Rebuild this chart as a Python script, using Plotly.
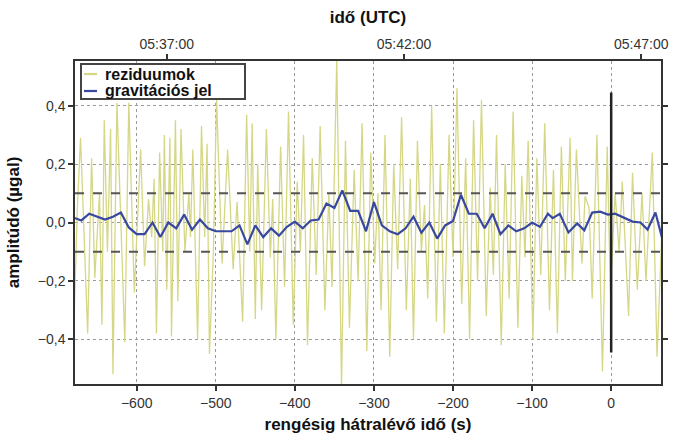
import plotly.graph_objects as go

# ---------------- data ----------------
# residuals (µgal): time (s before the quake), value
resid_t = [-680, -675, -671, -662, -657, -653, -647, -644, -641, -637, -633, -630, -625, -615, -610,
           -603, -595, -590, -585, -581, -578, -575, -571, -567, -565, -562, -558, -556, -551, -548,
           -544, -539, -534, -532, -529, -523, -518, -514, -511, -508, -503, -499, -492, -485, -478,
           -473, -466, -461, -457, -454, -450,
           -447, -442, -436, -431, -428, -424, -418, -413, -408, -402, -397, -393, -389, -384, -378,
           -373, -368, -362, -357, -353, -347, -341, -336, -331, -325, -320, -315, -309, -304, -299,
           -295, -291, -286, -280, -275, -270, -265, -259, -254, -250, -245, -240, -236, -232, -227,
           -221, -216, -211, -205, -200, -195, -189, -184, -179, -174, -169, -164, -158, -153, -149,
           -145, -139, -134, -129, -124, -118, -113, -109, -105, -99, -94, -89, -84, -78, -73,
           -68, -63, -58,
           -52, -49, -44, -37, -33, -28, -24, -18, -11, -5, -1, 5, 10, 14, 22, 27, 33, 39, 44, 52, 58, 66]
resid_v = [-0.41, 0.05, 0.29, -0.38, 0.22, -0.19, 0.10, -0.35, 0.35, -0.10, 0.32, -0.52, 0.41, -0.41, 0.41,
           -0.24, 0.25, -0.15, 0.08, -0.05, 0.15, -0.38, 0.24, -0.10, 0.30, -0.23, 0.29, -0.39, 0.35, -0.27,
           0.32, -0.10, 0.10, -0.05, 0.25, -0.40, 0.33, -0.05, 0.27, -0.45, -0.10, 0.42, -0.14, 0.25, -0.16,
           0.07, -0.34, 0.37, -0.10, 0.34, -0.33,
           0.20, -0.30, 0.32, -0.12, 0.08, -0.40, 0.26, -0.22, 0.38, -0.35, 0.14, -0.10, 0.30, -0.42, 0.22,
           -0.18, 0.33, -0.30, 0.10, -0.22, 0.56, -0.56, 0.28, -0.36, 0.18, -0.20, 0.34, -0.44, 0.24, -0.14,
           0.10, -0.30, 0.30, -0.46, 0.20, -0.16, 0.36, -0.30, 0.15, -0.40, 0.28, -0.10, 0.06, -0.26, 0.40,
           -0.34, 0.20, -0.38, 0.30, -0.12, 0.46, -0.28, 0.22, -0.40, 0.35, -0.20, 0.42, -0.32, 0.12, -0.18,
           0.30, -0.42, 0.20, -0.26, 0.38, -0.36, 0.16, -0.12, 0.28, -0.40, 0.22, -0.18, 0.34, -0.30, 0.18,
           -0.38, 0.26, -0.20,
           0.29, -0.20, 0.25, -0.14, 0.09, 0.05, -0.26, 0.30, -0.51, 0.26, -0.24, 0.10, -0.10, 0.14, -0.32,
           0.17, -0.23, 0.10, -0.20, 0.24, -0.46, 0.10]

# gravity signal (µgal), ~10 s samples
grav_t = [-680, -670, -660, -650, -640, -630, -620, -610, -600, -590, -580, -570, -560, -550, -540,
          -530, -520, -510, -500, -490, -480, -470, -460, -450, -440, -430, -420, -410, -400, -390,
          -380, -370, -360, -350, -340, -330, -320, -310, -300, -290, -280, -270, -260, -250, -240,
          -230, -220, -210, -200, -190, -180, -170, -160, -150, -140, -130, -120, -110, -100, -90,
          -80, -74, -65, -54, -43, -34, -24, -14, -4, 5, 15, 27, 37, 46, 56, 66]
grav_v = [0.017, 0.007, 0.030, 0.020, 0.010, 0.020, 0.034, -0.017, -0.040, -0.040, 0.000, -0.050, 0.000, -0.020, 0.027,
          -0.025, 0.010, -0.020, -0.030, -0.030, -0.030, -0.010, -0.075, -0.010, -0.050, -0.020, -0.045, -0.015, 0.003, -0.020,
          0.007, 0.010, 0.065, 0.050, 0.110, 0.040, 0.040, -0.030, 0.070, -0.010, -0.030, -0.040, -0.020, 0.020, -0.035,
          0.000, -0.055, -0.010, 0.005, 0.095, 0.030, 0.030, -0.020, 0.030, -0.040, -0.010, -0.030, -0.020, 0.000, -0.015,
          0.030, 0.015, 0.030, -0.034, -0.003, -0.027, 0.034, 0.037, 0.027, 0.030, 0.017, 0.003, 0.000, -0.024, 0.034, -0.070]

series_names = ["reziduumok", "gravitációs jel"]
x_ticks = [-600, -500, -400, -300, -200, -100, 0]
y_ticks = [-0.4, -0.2, 0.0, 0.2, 0.4]
y_ticktext = ["\u22120,4", "\u22120,2", "0,0", "0,2", "0,4"]
utc_ticks = [-562, -262, 38]
utc_labels = ["05:37:00", "05:42:00", "05:47:00"]
thresholds = [-0.1, 0.1]
event_t = 0
event_half = 0.445
x_range = [-678, 63]
y_range = [-0.553, 0.553]

# ---------------- style ----------------
FONT = "Liberation Sans, Arial, Helvetica, sans-serif"
YEL = "#d5d786"
BLUE = "#3848a0"
COLORS = [YEL, BLUE]
W, H = 674, 435
ML, MR, MT, MB = 75, 13, 61, 51
PW, PH = W - ML - MR, H - MT - MB


def px_x(p):
    return (p - ML) / PW


def px_y(p):
    return (H - MB - p) / PH


fig = go.Figure()
fig.add_trace(go.Scatter(x=resid_t, y=resid_v, mode="lines", name=series_names[0],
                         line=dict(color=YEL, width=1.3), showlegend=False))
fig.add_trace(go.Scatter(x=grav_t, y=grav_v, mode="lines", name=series_names[1],
                         line=dict(color=BLUE, width=2.2), showlegend=False))
# invisible trace carrying the top (UTC) axis
fig.add_trace(go.Scatter(x=grav_t, y=grav_v, mode="lines", xaxis="x2", showlegend=False,
                         line=dict(color="rgba(0,0,0,0)"), hoverinfo="skip"))

for th in thresholds:
    fig.add_shape(type="line", xref="paper", x0=0, x1=1, yref="y", y0=th, y1=th,
                  line=dict(color="#555555", width=2, dash="dash"), layer="above")
fig.add_shape(type="line", xref="x", x0=event_t, x1=event_t, yref="y", y0=-event_half, y1=event_half,
              line=dict(color="#222222", width=2.5), layer="above")

# legend box (drawn by hand to match the compact original)
fig.add_shape(type="rect", xref="paper", yref="paper",
              x0=px_x(81), x1=px_x(245), y0=px_y(99), y1=px_y(64),
              line=dict(color="#444444", width=2), fillcolor="white", layer="above")
for i, (name, col) in enumerate(zip(series_names, COLORS)):
    yy = px_y(74 + 17 * i)
    fig.add_shape(type="line", xref="paper", yref="paper", x0=px_x(84), x1=px_x(97), y0=yy, y1=yy,
                  line=dict(color=col, width=2.2), layer="above")
    fig.add_annotation(xref="paper", yref="paper", x=px_x(104), y=yy, xanchor="left", yanchor="middle",
                       text="<b>" + name + "</b>", showarrow=False, borderpad=0,
                       font=dict(family=FONT, size=16, color="#111111"))

axis_common = dict(showline=True, linecolor="#333333", linewidth=1.5, ticks="outside",
                   ticklen=5, tickwidth=1.5, tickcolor="#333333", automargin=False,
                   tickfont=dict(family=FONT, size=14, color="#333333"), zeroline=False)

fig.update_layout(
    width=W, height=H,
    margin=dict(l=ML, r=MR, t=MT, b=MB),
    paper_bgcolor="white", plot_bgcolor="white",
    font=dict(family=FONT),
    xaxis=dict(range=x_range, tickvals=x_ticks, mirror=True,
               showgrid=True, gridcolor="#9a9a9a", griddash="dot", gridwidth=1,
               title=dict(text="<b>rengésig hátralévő idő (s)</b>", standoff=9,
                          font=dict(family=FONT, size=17, color="#111111")),
               **axis_common),
    xaxis2=dict(range=x_range, overlaying="x", side="top", tickvals=utc_ticks, ticktext=utc_labels,
                showgrid=False,
                title=dict(text="<b>idő (UTC)</b>", standoff=8,
                           font=dict(family=FONT, size=17, color="#111111")),
                **axis_common),
    yaxis=dict(range=y_range, tickvals=y_ticks, ticktext=y_ticktext, mirror="ticks",
               showgrid=True, gridcolor="#9a9a9a", griddash="dot", gridwidth=1,
               title=dict(text="<b>amplitúdó (µgal)</b>", standoff=14,
                          font=dict(family=FONT, size=17, color="#111111")),
               **axis_common),
    showlegend=False,
)

fig.write_html("out.html", config={"displayModeBar": False},
               post_script="document.body.style.margin='0';document.body.style.overflow='hidden';")
